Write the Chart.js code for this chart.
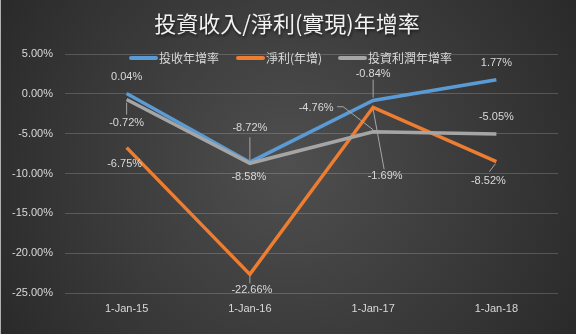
<!DOCTYPE html>
<html><head><meta charset="utf-8">
<script src="https://cdn.jsdelivr.net/npm/chart.js@4"></script>
<style>html,body{margin:0;padding:0;background:#3a3a3a}#wrap{width:576px;height:334px;position:relative}</style>
</head><body><div id="wrap"><canvas id="c" width="576" height="334"></canvas></div>
<script>
// ---- data ----
const categories = ['1-Jan-15','1-Jan-16','1-Jan-17','1-Jan-18'];
const seriesNames = ['投收年增率','淨利(年增)','投資利潤年增率'];
const investIncomeGrowth = [0.04, -8.58, -0.84, 1.77];
const netProfitGrowth = [-6.75, -22.66, -1.69, -8.52];
const investProfitGrowth = [-0.72, -8.72, -4.76, -5.05];
const yMin = -25, yMax = 5, yStep = 5;
const chartTitle = '投資收入/淨利(實現)年增率';

// ---- styling / label placement ----
const colors = ['#5B9BD5', '#ED7D31', '#A5A5A5'];
const labelLayout = [
  [{dx:0,dy:-17},{dx:-1,dy:15},{dx:0,dy:-27,lead:[[0,-21],[0,-3]]},{dx:0,dy:-17}],
  [{dx:-2,dy:16},{dx:2,dy:16,lead:[[0,2],[0,9]]},{dx:12,dy:69,lead:[[0,2],[11,62]]},{dx:-8,dy:19,lead:[[-1,2],[-7,10]]}],
  [{dx:0,dy:23,lead:[[0,3],[0,15]]},{dx:0,dy:-35,lead:[[0,-26],[0,-3]]},{dx:-57,dy:-24,lead:[[-36,-25],[-30,-25],[0,-2]]},{dx:0,dy:-17}]
];
const FONT = '"Liberation Sans", Arial, sans-serif';
const CJK = '"Noto Sans CJK TC", "Noto Sans CJK SC", sans-serif';

const bgPlugin = {
  id: 'bg',
  beforeDraw(chart) {
    const ctx = chart.ctx, w = chart.width, h = chart.height;
    const g = ctx.createRadialGradient(w*0.5, h*0.5, 0, w*0.5, h*0.5, w*0.62);
    g.addColorStop(0, '#4f4f4f');
    g.addColorStop(1, '#272727');
    ctx.save();
    ctx.fillStyle = g;
    ctx.fillRect(0, 0, w, h);
    ctx.fillStyle = '#b0b0b0';
    ctx.fillRect(0, 0, 1, h);
    // title
    ctx.font = '22px ' + CJK;
    ctx.textAlign = 'center';
    ctx.textBaseline = 'middle';
    ctx.shadowColor = 'rgba(0,0,0,0.6)';
    ctx.shadowOffsetX = 1; ctx.shadowOffsetY = 2; ctx.shadowBlur = 3;
    ctx.fillStyle = '#f2f2f2';
    ctx.fillText(chartTitle, 287, 24);
    ctx.restore();
  }
};

const overlayPlugin = {
  id: 'overlay',
  afterDraw(chart) {
    const ctx = chart.ctx;
    ctx.save();
    // legend
    const legendX = [129, 236, 338];
    const ly = 58;
    chart.data.datasets.forEach((ds, i) => {
      ctx.strokeStyle = ds.borderColor;
      ctx.lineWidth = 4;
      ctx.lineCap = 'round';
      ctx.beginPath();
      ctx.moveTo(legendX[i] + 2, ly);
      ctx.lineTo(legendX[i] + 27, ly);
      ctx.stroke();
      ctx.font = '12px ' + CJK;
      ctx.fillStyle = '#d9d9d9';
      ctx.textAlign = 'left';
      ctx.textBaseline = 'middle';
      ctx.fillText(ds.label, legendX[i] + 30, ly);
    });
    // data labels
    ctx.lineCap = 'butt';
    chart.data.datasets.forEach((ds, i) => {
      const meta = chart.getDatasetMeta(i);
      meta.data.forEach((pt, j) => {
        const L = labelLayout[i][j];
        if (L.lead) {
          ctx.strokeStyle = '#a6a6a6';
          ctx.lineWidth = 1;
          ctx.beginPath();
          L.lead.forEach((p, k) => {
            const x = pt.x + p[0], y = pt.y + p[1];
            if (k === 0) ctx.moveTo(x, y); else ctx.lineTo(x, y);
          });
          ctx.stroke();
        }
        ctx.font = '11px ' + FONT;
        ctx.fillStyle = '#d9d9d9';
        ctx.textAlign = 'center';
        ctx.textBaseline = 'middle';
        ctx.fillText(ds.data[j].toFixed(2) + '%', pt.x + L.dx, pt.y + L.dy);
      });
    });
    ctx.restore();
  }
};

const datasets = [investIncomeGrowth, netProfitGrowth, investProfitGrowth].map((d, i) => ({
  label: seriesNames[i],
  data: d,
  borderColor: colors[i],
  backgroundColor: colors[i],
  borderWidth: 3.5,
  pointRadius: 0,
  tension: 0,
  order: 3 - i
}));

new Chart(document.getElementById('c'), {
  type: 'line',
  data: { labels: categories, datasets },
  options: {
    responsive: false,
    animation: false,
    devicePixelRatio: 1,
    layout: { padding: { top: 54, right: 18, bottom: 0, left: 0 } },
    plugins: { legend: { display: false }, title: { display: false }, tooltip: { enabled: false } },
    scales: {
      x: {
        offset: true,
        grid: { display: false, drawTicks: false },
        border: { display: false },
        ticks: { color: '#d9d9d9', font: { family: FONT, size: 11 }, padding: 9, maxRotation: 0 },
        afterFit(s) { s.height = 41; }
      },
      y: {
        min: yMin, max: yMax,
        grid: { color: 'rgba(255,255,255,0.18)', lineWidth: 1, drawTicks: false },
        border: { display: false },
        ticks: { stepSize: yStep, color: '#d9d9d9', font: { family: FONT, size: 11 }, padding: 12,
          callback: v => v.toFixed(2) + '%' },
        afterFit(s) { s.width = 65; }
      }
    }
  },
  plugins: [bgPlugin, overlayPlugin]
});
</script>
</body></html>
